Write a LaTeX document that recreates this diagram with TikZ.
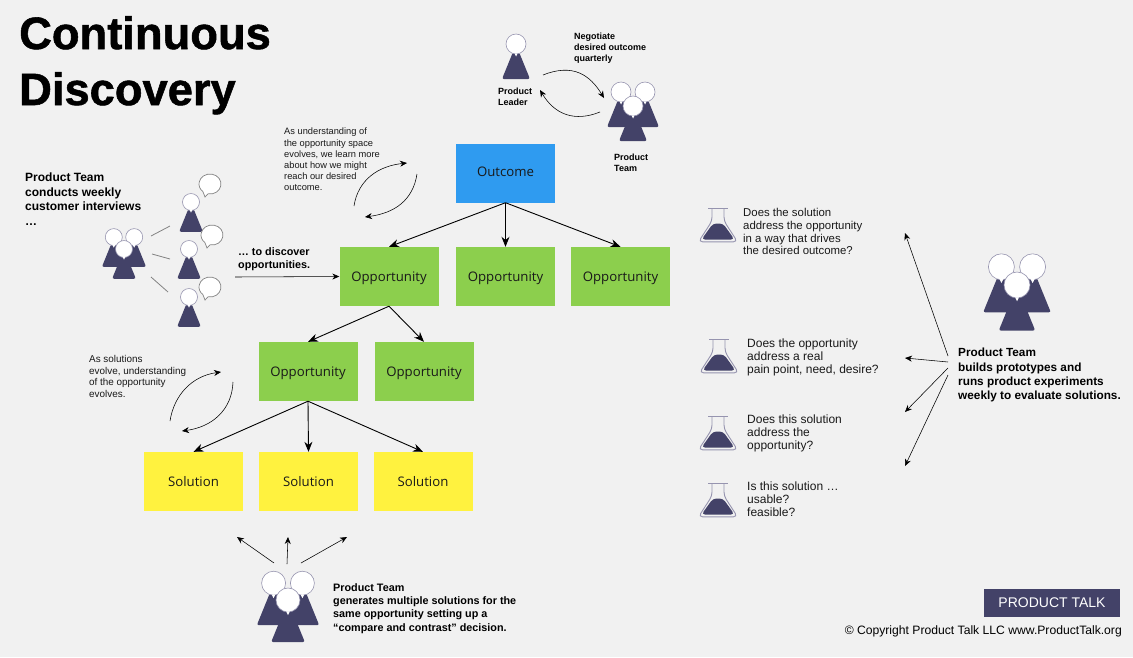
\documentclass[tikz,border=0pt]{standalone}
\usepackage{fontspec}
\setmainfont{Liberation Sans}
\newfontfamily\boxfont{Open Sans}
\newfontfamily\titlefont[BoldFeatures={FakeBold=1.2}]{Liberation Sans}
\usetikzlibrary{arrows.meta,positioning,calc}
\definecolor{ptpage}{RGB}{241,241,241}
\definecolor{ptnavy}{RGB}{67,66,104}
\definecolor{ptring}{RGB}{150,148,175}
\definecolor{ptblue}{RGB}{47,155,240}
\definecolor{ptgreen}{RGB}{140,207,77}
\definecolor{ptyellow}{RGB}{255,242,63}
\definecolor{ptink}{RGB}{25,25,25}
\definecolor{ptgray}{RGB}{130,130,130}
\tikzset{
  cardbox/.style={minimum width=99pt, minimum height=59pt, inner sep=0pt, text height=10pt, text depth=0.8pt, font=\boxfont\fontsize{13.2}{15}\selectfont, text=ptink},
  boldnote/.style={anchor=north west, inner sep=0pt, align=left, text=black, font=\fontsize{12}{14.4}\selectfont\bfseries},
  plainnote/.style={anchor=north west, inner sep=0pt, align=left, text=ptink, font=\fontsize{12}{12.8}\selectfont},
  tinynote/.style={anchor=north west, inner sep=0pt, align=left, text=ptink, font=\fontsize{9.3}{11.2}\selectfont},
  tinybold/.style={anchor=north west, inner sep=0pt, align=left, text=black, font=\fontsize{9}{11}\selectfont\bfseries},
  treearrow/.style={-{Stealth[length=10pt,width=8pt]}, line width=0.9pt, black},
  thinarrow/.style={-{Stealth[length=7pt,width=6pt]}, line width=0.55pt, black},
  person/.pic={
    \fill[ptnavy, rounded corners=2pt] (-3,8) -- (3,8) -- (14,35) -- (-14,35) -- cycle;
    \draw[ptring, fill=white, line width=0.6pt] (0,0) circle (10);
    \fill[white] (-1.5,9.5) -- (1.5,9.5) -- (0,12.5) -- cycle;
  },
  team/.pic={
    \pic[transform shape] at (-12,-14) {person};
    \pic[transform shape] at (12,-14) {person};
    \pic[transform shape] at (0,0) {person};
  },
  bubble/.pic={
    \draw[ptgray, fill=white, line width=0.7pt] (100:11 and 10) arc[start angle=100, end angle=-230, x radius=11, y radius=10] -- (-5,13) -- cycle;
  },
  flask/.pic={
    \fill[ptnavy, rounded corners=3.5pt] (-5,15.5) -- (5,15.5) -- (16.5,31.5) -- (-16.5,31.5) -- cycle;
    \draw[ptring, line width=0.9pt, rounded corners=4pt] (-6,0) -- (-6,13) -- (-19.5,33.8) -- (19.5,33.8) -- (6,13) -- (6,0);
    \draw[ptring, line width=0.9pt] (-10,0) -- (10,0);
  },
}
\begin{document}
\begin{tikzpicture}[x=1pt, y=-1pt]
  \useasboundingbox (0,0) rectangle (1133,657);
  \fill[ptpage] (0,0) rectangle (1133,657);

  % Title
  \node[anchor=north west, inner sep=0pt, align=left, font=\titlefont\fontsize{45.3}{56}\selectfont\bfseries] (title) at (19,16) {Continuous\\Discovery};

  %--- Tree ---
  \node[cardbox, text depth=2.8pt, fill=ptblue] (outcome) at (505.5,173) {Outcome};

  \node[cardbox, fill=ptgreen] (oppa) at (389,276.5) {Opportunity};
  \node[cardbox, fill=ptgreen] (oppb) at (505.5,276.5) {Opportunity};
  \node[cardbox, fill=ptgreen] (oppc) at (620.5,276.5) {Opportunity};

  \node[cardbox, fill=ptgreen] (oppd) at (308,371.5) {Opportunity};
  \node[cardbox, fill=ptgreen] (oppe) at (424,371.5) {Opportunity};

  \node[cardbox, fill=ptyellow] (sola) at (193.5,481.5) {Solution};
  \node[cardbox, fill=ptyellow] (solb) at (308.5,481.5) {Solution};
  \node[cardbox, fill=ptyellow] (solc) at (423,481.5) {Solution};

  \draw[treearrow] (outcome.south) -- (oppa.north);
  \draw[treearrow] (outcome.south) -- (oppb.north);
  \draw[treearrow] (outcome.south) -- (oppc.north);
  \draw[treearrow] (oppa.south) -- (oppd.north);
  \draw[treearrow] (oppa.south) -- (oppe.north);
  \draw[treearrow] (oppd.south) -- (sola.north);
  \draw[treearrow] (oppd.south) -- (solb.north);
  \draw[treearrow] (oppd.south) -- (solc.north);

  %--- Negotiation, top ---
  \pic at (516,44) {person};
  \pic at (633,106) {team};
  \node[tinybold] (leader) at (498,88) {Product\\Leader};
  \node[tinybold] (prodteam) at (614,154) {Product\\Team};
  \node[tinybold] (negotiate) at (574,33) {Negotiate\\desired outcome\\quarterly};

  \coordinate (leadout) at (543,75);
  \coordinate (teamin) at (604,98);
  \coordinate (teamout) at (600,112);
  \coordinate (leadin) at (540,90);
  \draw[thinarrow] (leadout) .. controls (573,63) and (590,75) .. (teamin);
  \draw[thinarrow] (teamout) .. controls (575,122) and (555,115) .. (leadin);

  %--- Interviews, left ---
  \node[boldnote] (interviews) at (25,173) {Product Team\\conducts weekly\\customer interviews\\\ldots};
  \pic[scale=0.85] at (124,249) {team};
  \pic[scale=0.85] at (191,202) {person};
  \pic[scale=0.85] at (189,249) {person};
  \pic[scale=0.85] at (189,297) {person};
  \pic at (210,184) {bubble};
  \pic at (212,235) {bubble};
  \pic at (210,287) {bubble};

  \coordinate (talka) at (151,236);
  \coordinate (talkb) at (170,226);
  \coordinate (talkc) at (152,254);
  \coordinate (talkd) at (170,259);
  \coordinate (talke) at (151,277);
  \coordinate (talkf) at (168,292);
  \draw[ptgray, line width=0.8pt] (talka) -- (talkb);
  \draw[ptgray, line width=0.8pt] (talkc) -- (talkd);
  \draw[ptgray, line width=0.8pt] (talke) -- (talkf);

  \node[boldnote, font=\fontsize{10.8}{13}\selectfont\bfseries] (discover) at (238,247) {\ldots{} to discover\\opportunities.};
  \coordinate (discoverout) at (235,277);
  \draw[thinarrow] (discoverout) -- (oppa.west);

  %--- Loop notes ---
  \node[tinynote] (loopup) at (284,128) {As understanding of\\the opportunity space\\evolves, we learn more\\about how we might\\reach our desired\\outcome.};
  \coordinate (upa) at (354,206);
  \coordinate (upb) at (407,163);
  \coordinate (upc) at (417,174);
  \coordinate (upd) at (365,217);
  \draw[thinarrow] (upa) .. controls (358,180) and (378,166) .. (upb);
  \draw[thinarrow] (upc) .. controls (413,200) and (395,213) .. (upd);

  \node[tinynote, font=\fontsize{9.9}{11.7}\selectfont] (loopdown) at (89,355) {As solutions\\evolve, understanding\\of the opportunity\\evolves.};
  \coordinate (downa) at (170,421);
  \coordinate (downb) at (221,372);
  \coordinate (downc) at (233,382);
  \coordinate (downd) at (182,431);
  \draw[thinarrow] (downa) .. controls (174,395) and (192,376) .. (downb);
  \draw[thinarrow] (downc) .. controls (232,410) and (212,427) .. (downd);

  %--- Compare and contrast, bottom ---
  \pic[scale=1.2] at (288,600) {team};
  \node[boldnote, font=\fontsize{10.8}{13.4}\selectfont\bfseries] (compare) at (333,583) {Product Team\\generates multiple solutions for the\\same opportunity setting up a\\``compare and contrast'' decision.};
  \coordinate (cmpa) at (274,563);
  \coordinate (cmpb) at (287,564);
  \coordinate (cmpc) at (301,563);
  \coordinate (cmpd) at (237,537);
  \coordinate (cmpe) at (288,537);
  \coordinate (cmpf) at (347,537);
  \draw[thinarrow] (cmpa) -- (cmpd);
  \draw[thinarrow] (cmpb) -- (cmpe);
  \draw[thinarrow] (cmpc) -- (cmpf);

  %--- Experiments, right ---
  \pic at (718,208) {flask};
  \pic at (719,339) {flask};
  \pic at (718,416) {flask};
  \pic at (718,483) {flask};
  \node[plainnote, font=\fontsize{11.4}{12.8}\selectfont] (quna) at (743,208) {Does the solution\\address the opportunity\\in a way that drives\\the desired outcome?};
  \node[plainnote] (qunb) at (747,339) {Does the opportunity\\address a real\\pain point, need, desire?};
  \node[plainnote] (qunc) at (747,415) {Does this solution\\address the\\opportunity?};
  \node[plainnote] (qund) at (747,482) {Is this solution \ldots\\usable?\\feasible?};

  \pic[scale=1.3] at (1017,285) {team};
  \node[boldnote, font=\fontsize{11.8}{14.4}\selectfont\bfseries] (builds) at (958,348) {Product Team\\builds prototypes and\\runs product experiments\\weekly to evaluate solutions.};
  \coordinate (expa) at (948,356);
  \coordinate (expb) at (948,362);
  \coordinate (expc) at (948,368);
  \coordinate (expd) at (948,375);
  \coordinate (expe) at (905,233);
  \coordinate (expf) at (905,358);
  \coordinate (expg) at (905,412);
  \coordinate (exph) at (905,466);
  \draw[thinarrow] (expa) -- (expe);
  \draw[thinarrow] (expb) -- (expf);
  \draw[thinarrow] (expc) -- (expg);
  \draw[thinarrow] (expd) -- (exph);

  % Badge
  \node[fill=ptnavy, text=white, minimum width=136pt, minimum height=28pt, inner sep=0pt, font=\fontsize{14}{16}\selectfont] (badge) at (1052,603) {PRODUCT TALK};
  \node[anchor=east, inner sep=0pt, text=black, font=\fontsize{12.15}{14}\selectfont] (copyright) at (1122,631) {© Copyright Product Talk LLC www.ProductTalk.org};
\end{tikzpicture}
\end{document}
